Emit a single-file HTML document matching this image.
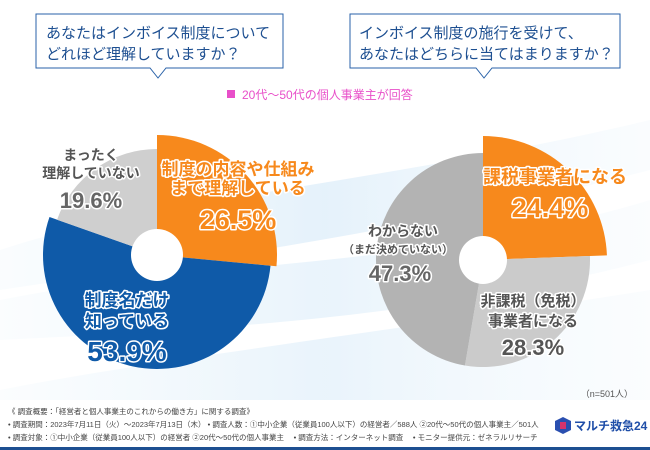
<!DOCTYPE html>
<html><head><meta charset="utf-8"><style>
body{margin:0;width:650px;height:450px;overflow:hidden;background:#fff;font-family:"Liberation Sans","Noto Sans CJK JP",sans-serif}
svg{display:block}
</style></head><body>
<svg id="c" width="650" height="450" viewBox="0 0 650 450" xmlns="http://www.w3.org/2000/svg">
<defs>
<linearGradient id="wv" x1="0" x2="1"><stop offset="0" stop-color="#d6ebf8" stop-opacity="0.2"/><stop offset="0.5" stop-color="#cfe6f7" stop-opacity="0.9"/><stop offset="1" stop-color="#e3f1fb" stop-opacity="0.3"/></linearGradient>
</defs>
<g>
<path d="M0 250 C150 200 400 180 650 120 L650 170 C420 230 200 260 0 290 Z" fill="url(#wv)" opacity="0.6"/>
<path d="M0 300 C200 260 420 270 650 200 L650 260 C420 320 200 330 0 340 Z" fill="url(#wv)" opacity="0.5"/>
<path d="M0 390 C150 360 400 330 650 290 L650 400 L0 400 Z" fill="url(#wv)" opacity="0.5"/>
</g>
<g>
<path d="M36 14 H283 V68 H166 L158 78 L150 68 H36 Z" fill="#fff" stroke="#2a62a8" stroke-width="1"/>
<text x="46" y="38" font-size="15" fill="#1d4f91">あなたはインボイス制度について</text>
<text x="46" y="59" font-size="15" fill="#1d4f91">どれほど理解していますか？</text>
</g>
<g>
<path d="M350 14 H620 V68 H492 L484 78 L476 68 H350 Z" fill="#fff" stroke="#2a62a8" stroke-width="1"/>
<text x="359" y="38" font-size="15" fill="#1d4f91">インボイス制度の施行を受けて、</text>
<text x="359" y="59" font-size="15" fill="#1d4f91">あなたはどちらに当てはまりますか？</text>
</g>
<g>
<rect x="227" y="90" width="8" height="8" fill="#e84fc9"/>
<text x="242" y="99" font-size="12" fill="#e84fc9">20代〜50代の個人事業主が回答</text>
</g>
<g id="pies"></g>
<g font-weight="bold" stroke="#fff" stroke-width="3" paint-order="stroke" stroke-linejoin="round" text-anchor="middle">
<text x="238" y="175" font-size="17" fill="#f7891c">制度の内容や仕組み</text>
<text x="238" y="194" font-size="17" fill="#f7891c">まで理解している</text>
<text x="238" y="229" font-size="27" fill="#f7891c">26.5%</text>
<text x="127" y="306" font-size="17" fill="#0f5aa8">制度名だけ</text>
<text x="127" y="327" font-size="17" fill="#0f5aa8">知っている</text>
<text x="127" y="361" font-size="28" fill="#0f5aa8">53.9%</text>
<text x="91" y="160" font-size="14" fill="#555">まったく</text>
<text x="91" y="178" font-size="14" fill="#555">理解していない</text>
<text x="91" y="208" font-size="22" fill="#666">19.6%</text>
</g>
<g font-weight="bold" stroke="#fff" stroke-width="3" paint-order="stroke" stroke-linejoin="round" text-anchor="middle">
<text x="555" y="183" font-size="18" fill="#f7891c">課税事業者になる</text>
<text x="550" y="217" font-size="27" fill="#f7891c">24.4%</text>
<text x="403" y="236" font-size="14" fill="#555">わからない</text>
<text x="398" y="253" font-size="11" fill="#555">（まだ決めていない）</text>
<text x="400" y="281" font-size="22" fill="#666">47.3%</text>
<text x="533" y="306" font-size="15" fill="#555">非課税（免税）</text>
<text x="533" y="326" font-size="15" fill="#555">事業者になる</text>
<text x="533" y="355" font-size="22" fill="#555">28.3%</text>
</g>
<text x="633" y="397" font-size="9" fill="#555" text-anchor="end">（n=501人）</text>
<g font-size="7.5" fill="#444">
<text x="8" y="414">《 調査概要：「経営者と個人事業主のこれからの働き方」に関する調査》</text>
<text x="8" y="427">• 調査期間：2023年7月11日（火）〜2023年7月13日（木） • 調査人数：①中小企業（従業員100人以下）の経営者／588人 ②20代〜50代の個人事業主／501人</text>
<text x="8" y="440">• 調査対象：①中小企業（従業員100人以下）の経営者 ②20代〜50代の個人事業主　 • 調査方法：インターネット調査　 • モニター提供元：ゼネラルリサーチ</text>
</g>
<g>
<polygon points="563,417 571,421 571,430 563,434 555,430 555,421" fill="#2a4fb0"/>
<rect x="560" y="422" width="6" height="7" fill="#d6336c"/>
<text x="574" y="430" font-size="12" font-weight="bold" fill="#1f4ea8">マルチ救急24</text>
</g>
<rect x="0" y="447" width="650" height="3" fill="#1d4f91"/>
</svg>
<script>
const leftCategories = ["制度の内容や仕組みまで理解している","制度名だけ知っている","まったく理解していない"];
const leftValues = [26.5, 53.9, 19.6];
const rightCategories = ["課税事業者になる","非課税（免税）事業者になる","わからない（まだ決めていない）"];
const rightValues = [24.4, 28.3, 47.3];
const NS = "http://www.w3.org/2000/svg";
const g = document.getElementById('pies');
function pie(cx, cy, values, radii, colors, hole, prefix) {
  const total = values.reduce((a, b) => a + b, 0);
  let a0 = -Math.PI / 2;
  values.forEach((v, i) => {
    const a1 = a0 + v / total * Math.PI * 2;
    const r = radii[i];
    const large = (a1 - a0) > Math.PI ? 1 : 0;
    const x0 = cx + r * Math.cos(a0), y0 = cy + r * Math.sin(a0);
    const x1 = cx + r * Math.cos(a1), y1 = cy + r * Math.sin(a1);
    const p = document.createElementNS(NS, 'path');
    p.setAttribute('d', `M${cx} ${cy} L${x0} ${y0} A${r} ${r} 0 ${large} 1 ${x1} ${y1} Z`);
    p.setAttribute('fill', colors[i]);
    
    
    g.appendChild(p);
    a0 = a1;
  });
  const c = document.createElementNS(NS, 'circle');
  c.setAttribute('cx', cx); c.setAttribute('cy', cy); c.setAttribute('r', hole); c.setAttribute('fill', '#fff');
  
  
  g.appendChild(c);
}
pie(157, 255, leftValues, [120, 114, 106], ["#f7891c", "#0f5aa8", "#cfcfcf"], 26, 'left-pie');
pie(483, 260, rightValues, [124, 107, 107], ["#f7891c", "#cbcbcb", "#b3b3b3"], 24, 'right-pie');
</script>
</body></html>
